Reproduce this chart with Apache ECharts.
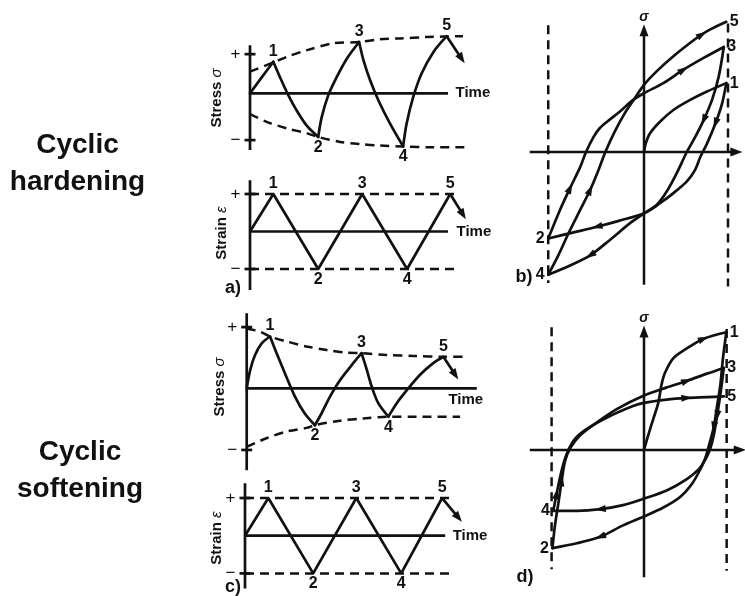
<!DOCTYPE html>
<html>
<head>
<meta charset="utf-8">
<script src="https://cdn.jsdelivr.net/npm/echarts@6/dist/echarts.min.js"></script>
<style>
  html, body { margin: 0; padding: 0; background: #fff; }
  #chart { width: 745px; height: 596px; }
</style>
</head>
<body>
<div id="chart"></div>
<script>
// ---------------- data ----------------
const peakNames = ['1', '2', '3', '4', '5'];
const tickNames = ['+', '\u2212'];

// a) cyclic hardening, stress history [time, stress], one branch per reversal
const hardStress01 = [[0, 0], [0.27, 0.36], [0.53, 0.70]];
const hardStress12 = [[0.53, 0.70], [0.68, 0.36], [0.87, -0.04], [1.06, -0.38], [1.29, -0.72], [1.55, -0.97]];
const hardStress23 = [[1.55, -0.97], [1.63, -0.53], [1.78, -0.04], [1.97, 0.36], [2.20, 0.77], [2.48, 1.14]];
const hardStress34 = [[2.48, 1.14], [2.58, 0.73], [2.73, 0.29], [2.92, -0.16], [3.18, -0.67], [3.48, -1.18]];
const hardStress45 = [[3.48, -1.18], [3.56, -0.67], [3.71, -0.08], [3.90, 0.44], [4.17, 0.92], [4.47, 1.27]];
const hardStressTail = [[4.47, 1.27], [4.81, 0.77]];
const hardStressUpper = [[0, 0.48], [0.39, 0.63], [0.84, 0.81], [1.30, 0.96], [1.89, 1.11], [2.48, 1.14], [2.95, 1.20], [3.41, 1.22], [4.02, 1.25], [4.84, 1.27]];
const hardStressLower = [[0, -0.46], [0.39, -0.64], [0.84, -0.78], [1.30, -0.89], [1.55, -0.97], [2.05, -1.08], [2.50, -1.13], [2.95, -1.16], [3.48, -1.18], [4.16, -1.20], [4.89, -1.20]];
const hardStressAxis = [1.07, -1.26];
const hardStressTicks = [0.87, -1.04];
const hardStressTime = 4.5;

// a) cyclic hardening, strain history [time, strain]
const hardStrain = [[0, 0], [0.53, 1], [1.55, -1], [2.55, 1], [3.57, -1], [4.55, 1]];
const hardStrainTail = [[4.55, 1], [4.84, 0.45]];
const hardStrainLimit = 4.77;
const hardStrainAxis = [1.37, -1.56];
const hardStrainTime = 4.5;

// c) cyclic softening, stress history
const softStress01 = [[0, 0], [0.08, 0.41], [0.19, 0.74], [0.34, 1.00], [0.53, 1.15]];
const softStress12 = [[0.53, 1.15], [0.68, 0.78], [0.87, 0.33], [1.10, -0.19], [1.32, -0.56], [1.55, -0.82]];
const softStress23 = [[1.55, -0.82], [1.70, -0.56], [1.89, -0.19], [2.12, 0.18], [2.39, 0.52], [2.61, 0.78]];
const softStress34 = [[2.61, 0.78], [2.73, 0.41], [2.84, 0.04], [2.99, -0.33], [3.22, -0.63]];
const softStress45 = [[3.22, -0.63], [3.41, -0.33], [3.64, -0.04], [3.94, 0.30], [4.24, 0.56], [4.47, 0.70]];
const softStressTail = [[4.47, 0.70], [4.74, 0.30]];
const softStressUpper = [[0, 1.33], [0.30, 1.26], [0.53, 1.15], [0.91, 1.04], [1.36, 0.93], [1.82, 0.85], [2.27, 0.79], [2.61, 0.78], [3.18, 0.74], [3.79, 0.72], [4.47, 0.70], [5.0, 0.70]];
const softStressLower = [[0, -1.30], [0.45, -1.11], [0.91, -0.96], [1.36, -0.88], [1.55, -0.82], [2.12, -0.72], [2.65, -0.67], [3.22, -0.63], [3.87, -0.63], [4.85, -0.63]];
const softStressAxis = [1.67, -1.82];
const softStressTicks = [1.36, -1.37];
const softStressTime = 5.23;

// c) cyclic softening, strain history
const softStrain = [[0, 0], [0.53, 1], [1.55, -1], [2.53, 1], [3.55, -1], [4.48, 1]];
const softStrainTail = [[4.48, 1], [4.85, 0.48]];
const softStrainLimit = 4.74;
const softStrainAxis = [1.39, -1.40];
const softStrainTime = 4.55;

const strainTicks = [1, -1];

// b) hysteresis loops under cyclic hardening [strain, stress]
const hardLoop01 = [[0, 0], [0.02, 0.10], [0.07, 0.22], [0.19, 0.36], [0.35, 0.50], [0.55, 0.62], [0.75, 0.72], [0.98, 0.82]];
const hardLoop12 = [[0.98, 0.82], [0.93, 0.58], [0.85, 0.34], [0.75, 0.10], [0.67, -0.06], [0.61, -0.21], [0.51, -0.35], [0.35, -0.49], [0.19, -0.61], [0, -0.73], [-0.30, -0.82], [-0.56, -0.89], [-0.85, -0.96], [-1.14, -1.03]];
const hardLoop23 = [[-1.14, -1.03], [-1.00, -0.69], [-0.88, -0.43], [-0.76, -0.18], [-0.69, 0.0], [-0.60, 0.18], [-0.53, 0.28], [-0.44, 0.36], [-0.29, 0.48], [-0.13, 0.62], [0, 0.70], [0.23, 0.82], [0.47, 0.98], [0.71, 1.12], [0.95, 1.25]];
const hardLoop34 = [[0.95, 1.25], [0.89, 0.90], [0.81, 0.62], [0.71, 0.38], [0.61, 0.18], [0.51, 0.0], [0.39, -0.25], [0.27, -0.47], [0.15, -0.63], [0, -0.73], [-0.17, -0.85], [-0.41, -1.05], [-0.64, -1.23], [-0.88, -1.35], [-1.14, -1.46]];
const hardLoop45 = [[-1.14, -1.46], [-1.02, -1.23], [-0.90, -0.97], [-0.76, -0.69], [-0.64, -0.45], [-0.54, -0.21], [-0.46, 0.0], [-0.35, 0.24], [-0.23, 0.46], [-0.11, 0.64], [0, 0.80], [0.15, 0.96], [0.35, 1.14], [0.59, 1.33], [0.69, 1.40], [0.79, 1.46], [0.98, 1.55]];
const hardLoopPeaks = [[0.98, 0.82], [-1.14, -1.03], [0.95, 1.25], [-1.14, -1.46], [0.98, 1.55]];
const hardLoopStrainAxis = [-1.36, 1.10];
const hardLoopStressAxis = [-1.58, 1.45];
const hardLoopLeftLimit = [-1.14, 1.51, -1.56];
const hardLoopRightLimit = [1.0, 1.53, -1.60];

// d) hysteresis loops under cyclic softening
const softLoop01 = [[0, 0], [0.05, 0.18], [0.11, 0.38], [0.17, 0.58], [0.21, 0.81], [0.25, 0.95], [0.35, 1.13], [0.51, 1.25], [0.71, 1.37], [0.98, 1.45]];
const softLoop12 = [[0.98, 1.45], [0.94, 1.13], [0.91, 0.81], [0.87, 0.54], [0.83, 0.28], [0.78, 0.08], [0.73, -0.10], [0.67, -0.24], [0.57, -0.42], [0.43, -0.58], [0.23, -0.71], [0, -0.82], [-0.25, -0.93], [-0.52, -1.07], [-0.80, -1.15], [-1.09, -1.21]];
const softLoop23 = [[-1.09, -1.21], [-1.06, -0.93], [-1.02, -0.66], [-0.98, -0.38], [-0.94, -0.14], [-0.88, 0.02], [-0.76, 0.18], [-0.56, 0.34], [-0.33, 0.50], [0, 0.67], [0.27, 0.77], [0.51, 0.85], [0.75, 0.94], [0.95, 1.01]];
const softLoop34 = [[0.95, 1.01], [0.91, 0.69], [0.87, 0.42], [0.83, 0.18], [0.79, 0.02], [0.73, -0.12], [0.65, -0.24], [0.51, -0.36], [0.27, -0.50], [0, -0.60], [-0.25, -0.68], [-0.52, -0.73], [-0.80, -0.75], [-1.08, -0.75]];
const softLoop45 = [[-1.08, -0.75], [-1.04, -0.54], [-1.00, -0.34], [-0.95, -0.14], [-0.90, 0.0], [-0.82, 0.14], [-0.68, 0.26], [-0.44, 0.40], [-0.13, 0.54], [0, 0.58], [0.27, 0.62], [0.51, 0.64], [0.75, 0.65], [0.95, 0.66]];
const softLoopPeaks = [[0.98, 1.45], [-1.09, -1.21], [0.95, 1.01], [-1.08, -0.75], [0.95, 0.66]];
const softLoopStrainAxis = [-1.36, 1.14];
const softLoopStressAxis = [-1.57, 1.46];
const softLoopLeftLimit = [-1.10, 1.51, -1.47];
const softLoopRightLimit = [0.984, 1.49, -1.49];

// ---------------- layout & drawing ----------------
const INK = '#111111';
const FONT = '"Liberation Sans", Arial, Helvetica, sans-serif';

// grid boxes (px) and axis ranges for each panel
const panels = [
  { box: { left: 206, top: 21.3, width: 286, height: 144 }, x: [-1, 5.5], y: [-1.6, 1.6] },       // a) stress
  { box: { left: 206, top: 171.5, width: 286, height: 120 }, x: [-1, 5.5], y: [-1.6, 1.6] },      // a) strain
  { box: { left: 202.7, top: 298.3, width: 286, height: 180 }, x: [-1, 5.5], y: [-2, 2] },        // c) stress
  { box: { left: 201, top: 475.4, width: 286, height: 122.6 }, x: [-1, 5.5], y: [-1.6, 1.6] },    // c) strain
  { box: { left: 501.2, top: 0.8, width: 243.6, height: 302.4 }, x: [-1.7, 1.2], y: [-1.8, 1.8] },  // b) loops
  { box: { left: 501.2, top: 303.8, width: 243.6, height: 302.4 }, x: [-1.7, 1.2], y: [-1.8, 1.8] } // d) loops
];

const series = [];

function line(p, pts, extra) {
  series.push(Object.assign({
    type: 'line', xAxisIndex: p, yAxisIndex: p, data: pts,
    symbol: 'none', smooth: 0.3, silent: true, clip: false, z: 3,
    lineStyle: { color: INK, width: 2.7, cap: 'round', join: 'round' }
  }, extra || {}));
}
function straight(p, pts, width) {
  line(p, pts, { smooth: false, lineStyle: { color: INK, width: width || 2.7, cap: 'butt' } });
}
function dashed(p, pts, smooth) {
  line(p, pts, { smooth: smooth ? 0.3 : false, lineStyle: { color: INK, width: 2.5, type: [9, 6] } });
}
// filled arrowhead at pts[i], pointing along the local direction of the curve
function arrow(p, pts, i, size) {
  const pan = panels[p];
  const kx = pan.box.width / (pan.x[1] - pan.x[0]);
  const ky = pan.box.height / (pan.y[1] - pan.y[0]);
  const a = pts[Math.max(0, i - 1)];
  const b = pts[Math.min(pts.length - 1, i + 1)];
  const ang = Math.atan2((b[1] - a[1]) * ky, (b[0] - a[0]) * kx) * 180 / Math.PI;
  series.push({
    type: 'scatter', xAxisIndex: p, yAxisIndex: p, silent: true, z: 5,
    symbol: 'triangle', symbolSize: size || [8, 12],
    data: [{ value: pts[i], symbolRotate: ang - 90 }],
    itemStyle: { color: INK, opacity: 1 }
  });
}
function texts(p, pts, names, pos, opt) {
  opt = opt || {};
  series.push({
    type: 'scatter', xAxisIndex: p, yAxisIndex: p, silent: true, z: 6,
    symbol: 'circle', symbolSize: 1, itemStyle: { color: 'rgba(0,0,0,0)', opacity: 1 },
    label: {
      show: true, color: INK, fontFamily: FONT, fontSize: opt.size || 17,
      fontWeight: opt.weight || 'bold',
      fontStyle: opt.italic ? 'italic' : 'normal', distance: opt.distance == null ? 3 : opt.distance
    },
    data: pts.map((v, i) => ({
      value: v,
      label: Object.assign({ formatter: names[i], position: pos[i] }, opt.offset ? { offset: opt.offset } : {})
    }))
  });
}
function ticks(p, vals) {
  series.push({
    type: 'scatter', xAxisIndex: p, yAxisIndex: p, silent: true, z: 4,
    symbol: 'rect', symbolSize: [11, 2.7], itemStyle: { color: INK, opacity: 1 },
    data: vals.map(v => [0, v])
  });
  texts(p, vals.map(v => [0, v]), tickNames, ['left', 'left'], { distance: 9, weight: 'normal' });
}
const updown = ['top', 'bottom', 'top', 'bottom', 'top'];
const lastOf = arr => arr[arr.length - 1];

// ---- a) hardening: stress vs time
(function () {
  const p = 0;
  straight(p, [[0, hardStressAxis[0]], [0, hardStressAxis[1]]]);
  straight(p, [[0, 0], [hardStressTime, 0]]);
  ticks(p, hardStressTicks);
  dashed(p, hardStressUpper, true);
  dashed(p, hardStressLower, true);
  [hardStress01, hardStress12, hardStress23, hardStress34, hardStress45].forEach(b => line(p, b));
  straight(p, hardStressTail);
  arrow(p, hardStressTail, 1, [8, 11]);
  const peaks = [hardStress01, hardStress12, hardStress23, hardStress34, hardStress45].map(lastOf);
  texts(p, peaks, peakNames, updown, { distance: 2, size: 16 });
  texts(p, [[hardStressTime, 0]], ['Time'], ['right'], { size: 15, distance: 7 });
})();

// ---- a) hardening: strain vs time
(function () {
  const p = 1;
  straight(p, [[0, hardStrainAxis[0]], [0, hardStrainAxis[1]]]);
  straight(p, [[0, 0], [hardStrainTime, 0]]);
  ticks(p, strainTicks);
  dashed(p, [[0, 1], [hardStrainLimit, 1]]);
  dashed(p, [[0, -1], [hardStrainLimit, -1]]);
  straight(p, hardStrain);
  straight(p, hardStrainTail);
  arrow(p, hardStrainTail, 1, [8, 11]);
  texts(p, hardStrain.slice(1), peakNames, updown, { distance: 2, size: 16 });
  texts(p, [[hardStrainTime, 0]], ['Time'], ['right'], { size: 15, distance: 8 });
})();

// ---- c) softening: stress vs time
(function () {
  const p = 2;
  straight(p, [[0, softStressAxis[0]], [0, softStressAxis[1]]]);
  straight(p, [[0, 0], [softStressTime, 0]]);
  ticks(p, softStressTicks);
  dashed(p, softStressUpper, true);
  dashed(p, softStressLower, true);
  [softStress01, softStress12, softStress23, softStress34, softStress45].forEach(b => line(p, b));
  straight(p, softStressTail);
  arrow(p, softStressTail, 1, [8, 11]);
  const peaks = [softStress01, softStress12, softStress23, softStress34, softStress45].map(lastOf);
  texts(p, peaks, peakNames, updown, { distance: 2, size: 16 });
  texts(p, [[softStressTime, 0]], ['Time'], ['bottom'], { size: 15, distance: 4, offset: [-11, 0] });
})();

// ---- c) softening: strain vs time
(function () {
  const p = 3;
  straight(p, [[0, softStrainAxis[0]], [0, softStrainAxis[1]]]);
  straight(p, [[0, 0], [softStrainTime, 0]]);
  ticks(p, strainTicks);
  dashed(p, [[0, 1], [softStrainLimit, 1]]);
  dashed(p, [[0, -1], [softStrainLimit, -1]]);
  straight(p, softStrain);
  straight(p, softStrainTail);
  arrow(p, softStrainTail, 1, [8, 11]);
  texts(p, softStrain.slice(1), peakNames, updown, { distance: 2, size: 16 });
  texts(p, [[softStrainTime, 0]], ['Time'], ['right'], { size: 15, distance: 7 });
})();

// ---- b) / d) stress-strain loops
function loops(p, branches, peaks, epsAxis, sigAxis, leftLim, rightLim, arrows) {
  const hAxis = [[epsAxis[0], 0], [epsAxis[1], 0]];
  const vAxis = [[0, sigAxis[0]], [0, sigAxis[1]]];
  straight(p, hAxis, 2.5);
  straight(p, vAxis, 2.5);
  arrow(p, hAxis, 1, [9, 12]);
  arrow(p, vAxis, 1, [9, 12]);
  texts(p, [[0, sigAxis[1]]], ['\u03c3'], ['top'], { size: 14, italic: true, distance: 6 });
  dashed(p, [[leftLim[0], leftLim[1]], [leftLim[0], leftLim[2]]]);
  dashed(p, [[rightLim[0], rightLim[1]], [rightLim[0], rightLim[2]]]);
  branches.forEach(b => line(p, b));
  arrows.forEach(a => arrow(p, branches[a[0]], a[1], [7, 11]));
  texts(p, peaks, peakNames, ['right', 'left', 'right', 'left', 'right'], { distance: 3, size: 16 });
}
loops(4, [hardLoop01, hardLoop12, hardLoop23, hardLoop34, hardLoop45], hardLoopPeaks,
  hardLoopStrainAxis, hardLoopStressAxis, hardLoopLeftLimit, hardLoopRightLimit,
  [[1, 2], [3, 3], [1, 11], [3, 12], [2, 2], [4, 4], [2, 12], [4, 14]]);
loops(5, [softLoop01, softLoop12, softLoop23, softLoop34, softLoop45], softLoopPeaks,
  softLoopStrainAxis, softLoopStressAxis, softLoopLeftLimit, softLoopRightLimit,
  [[0, 8], [2, 11], [4, 11], [1, 4], [3, 2], [1, 13], [3, 11], [2, 3], [4, 1]]);

// ---------------- option ----------------
const chart = echarts.init(document.getElementById('chart'), null, { renderer: 'canvas' });

const bigText = { fill: INK, font: 'bold 28px ' + FONT, textAlign: 'center', textVerticalAlign: 'middle', lineHeight: 37 };
const sideText = (txt, sym) => ({
  text: txt + ' {s|' + sym + '}', fill: INK, font: 'bold 15px ' + FONT, textAlign: 'center', textVerticalAlign: 'middle',
  rich: { s: { fontStyle: 'italic', fontSize: 15, fontFamily: FONT, fill: INK } }
});
const panelTag = txt => ({ text: txt, fill: INK, font: 'bold 18px ' + FONT, textAlign: 'center', textVerticalAlign: 'middle' });

chart.setOption({
  animation: false,
  backgroundColor: '#ffffff',
  grid: panels.map(pn => Object.assign({ show: false }, pn.box)),
  xAxis: panels.map((pn, i) => ({ type: 'value', gridIndex: i, min: pn.x[0], max: pn.x[1], show: false })),
  yAxis: panels.map((pn, i) => ({ type: 'value', gridIndex: i, min: pn.y[0], max: pn.y[1], show: false })),
  graphic: [
    { type: 'text', x: 77.5, y: 164, style: Object.assign({ text: 'Cyclic\nhardening' }, bigText) },
    { type: 'text', x: 80, y: 470.5, style: Object.assign({ text: 'Cyclic\nsoftening' }, bigText) },
    { type: 'text', x: 217, y: 98, rotation: Math.PI / 2, style: sideText('Stress', '\u03c3') },
    { type: 'text', x: 221.5, y: 233, rotation: Math.PI / 2, style: sideText('Strain', '\u03b5') },
    { type: 'text', x: 220, y: 387, rotation: Math.PI / 2, style: sideText('Stress', '\u03c3') },
    { type: 'text', x: 216.5, y: 538, rotation: Math.PI / 2, style: sideText('Strain', '\u03b5') },
    { type: 'text', x: 233, y: 288, style: panelTag('a)') },
    { type: 'text', x: 524, y: 277, style: panelTag('b)') },
    { type: 'text', x: 233, y: 587, style: panelTag('c)') },
    { type: 'text', x: 525, y: 577, style: panelTag('d)') }
  ],
  series: series
});
</script>
</body>
</html>
